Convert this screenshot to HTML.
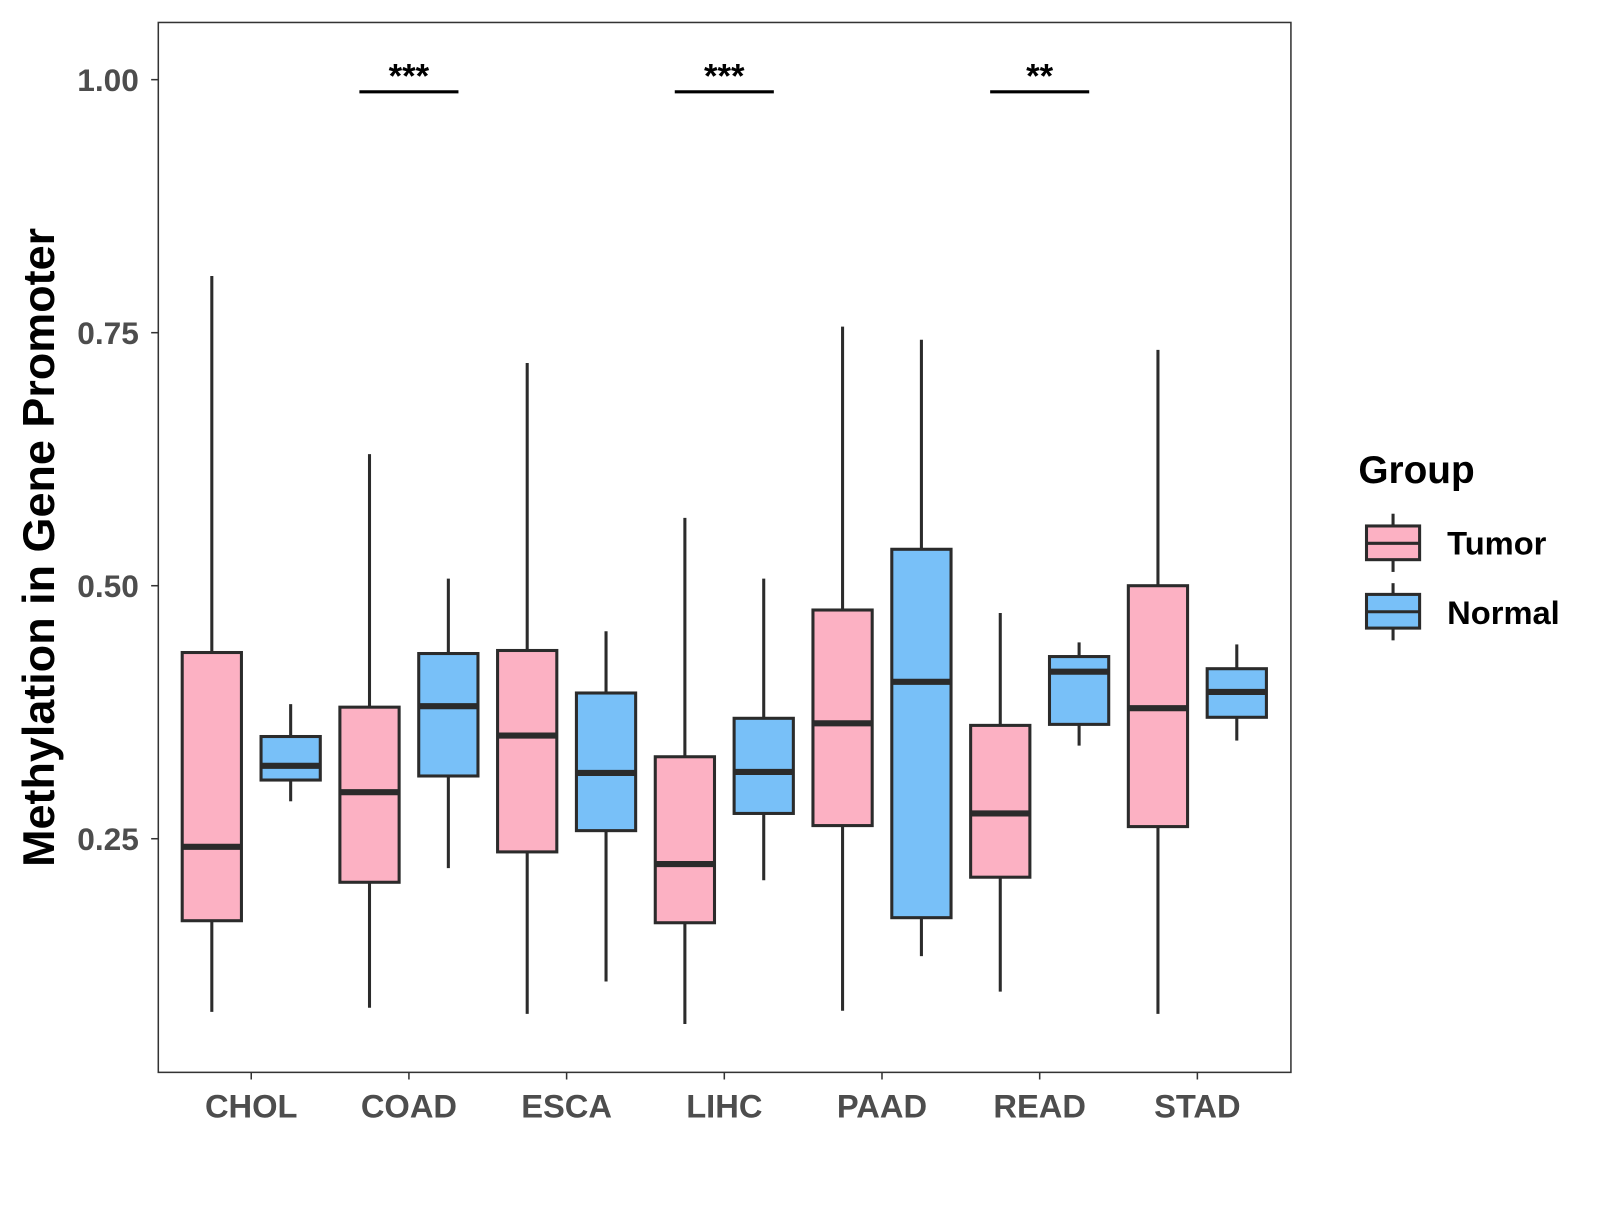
<!DOCTYPE html>
<html><head><meta charset="utf-8"><style>
body{margin:0;background:#fff;}
svg text{font-family:"Liberation Sans",Arial,sans-serif;font-weight:bold;}
</style></head><body>
<svg id="chart" width="1600" height="1200" viewBox="0 0 1600 1200" xmlns="http://www.w3.org/2000/svg">
<g transform="scale(1.0213)">
<rect x="155" y="22" width="1109" height="1028" fill="#fff" stroke="#333" stroke-width="1.5"/>
<g id="yaxis"></g>
<g id="xaxis"></g>
<g id="boxes"></g>
<g id="sig"></g>
<text transform="translate(53,536) rotate(-90)" text-anchor="middle" font-size="44" fill="#000">Methylation in Gene Promoter</text>
<g>
<text x="1330" y="473" font-size="38" fill="#000">Group</text>
<g>
<line x1="1364" y1="503" x2="1364" y2="560" stroke="#2b2b2b" stroke-width="3"/>
<rect x="1338" y="515" width="52" height="33" fill="#FCB1C3" stroke="#2b2b2b" stroke-width="3"/>
<line x1="1338" y1="532" x2="1390" y2="532" stroke="#2b2b2b" stroke-width="3"/>
<text x="1417" y="543" font-size="32" fill="#000">Tumor</text>
</g>
<g>
<line x1="1364" y1="571" x2="1364" y2="627" stroke="#2b2b2b" stroke-width="3"/>
<rect x="1338" y="582" width="52" height="33" fill="#78C0F8" stroke="#2b2b2b" stroke-width="3"/>
<line x1="1338" y1="599" x2="1390" y2="599" stroke="#2b2b2b" stroke-width="3"/>
<text x="1417" y="611" font-size="32" fill="#000">Normal</text>
</g>
</g>
</g>
</svg>
<script>
const categories=["CHOL","COAD","ESCA","LIHC","PAAD","READ","STAD"];
const groups=["Tumor","Normal"];
const tumorLow=[0.079,0.083,0.077,0.067,0.080,0.099,0.077];
const tumorQ1=[0.169,0.207,0.237,0.167,0.263,0.212,0.262];
const tumorMed=[0.242,0.296,0.352,0.225,0.364,0.275,0.379];
const tumorQ3=[0.434,0.380,0.436,0.331,0.476,0.362,0.500];
const tumorHigh=[0.806,0.630,0.720,0.567,0.756,0.473,0.733];
const normalLow=[0.287,0.221,0.109,0.209,0.134,0.342,0.347];
const normalQ1=[0.308,0.312,0.258,0.275,0.172,0.363,0.370];
const normalMed=[0.322,0.381,0.315,0.316,0.405,0.415,0.395];
const normalQ3=[0.351,0.433,0.394,0.369,0.536,0.430,0.418];
const normalHigh=[0.383,0.507,0.455,0.507,0.743,0.444,0.442];
const yTicks=[0.25,0.50,0.75,1.00];
const yTickLabels=["0.25","0.50","0.75","1.00"];
const sigCategories=["COAD","LIHC","READ"];
const sigLabels=["***","***","**"];
const sigLevel=0.988;

const NS="http://www.w3.org/2000/svg";
function y(v){return 78+(1-v)*991;}
function x(i){return 246+i*154.4;}
const dodge=38.6, bw=58;
function mk(tag,attrs,parent){const e=document.createElementNS(NS,tag);for(const k in attrs)e.setAttribute(k,attrs[k]);parent.appendChild(e);return e;}

const ya=document.getElementById('yaxis');
yTicks.forEach((t,i)=>{
  const l=mk('line',{x1:148,x2:155,y1:y(t),y2:y(t),stroke:'#333','stroke-width':1.5},ya);
  
  
  const tx=mk('text',{x:136,y:y(t)+11,'text-anchor':'end','font-size':31,fill:'#4d4d4d'},ya);
  tx.textContent=yTickLabels[i];
  
  
});
const xa=document.getElementById('xaxis');
categories.forEach((c,i)=>{
  const l=mk('line',{x1:x(i),x2:x(i),y1:1050,y2:1057,stroke:'#333','stroke-width':1.5},xa);
  
  
  const tx=mk('text',{x:x(i),y:1094,'text-anchor':'middle','font-size':32,fill:'#4d4d4d'},xa);
  tx.textContent=c;
  
  
});
const bx=document.getElementById('boxes');
function drawBox(cx,lo,q1,md,q3,hi,fill,name){
  const g=mk('g',{},bx);
  
  
  mk('line',{x1:cx,x2:cx,y1:y(hi),y2:y(q3),stroke:'#2b2b2b','stroke-width':3},g);
  mk('line',{x1:cx,x2:cx,y1:y(q1),y2:y(lo),stroke:'#2b2b2b','stroke-width':3},g);
  mk('rect',{x:cx-bw/2,y:y(q3),width:bw,height:y(q1)-y(q3),fill:fill,stroke:'#2b2b2b','stroke-width':3},g);
  mk('line',{x1:cx-bw/2,x2:cx+bw/2,y1:y(md),y2:y(md),stroke:'#2b2b2b','stroke-width':6},g);
}
categories.forEach((c,i)=>{
  drawBox(x(i)-dodge,tumorLow[i],tumorQ1[i],tumorMed[i],tumorQ3[i],tumorHigh[i],'#FCB1C3','box-tumor-'+c.toLowerCase());
  drawBox(x(i)+dodge,normalLow[i],normalQ1[i],normalMed[i],normalQ3[i],normalHigh[i],'#78C0F8','box-normal-'+c.toLowerCase());
});
const sg=document.getElementById('sig');
sigCategories.forEach((c,k)=>{
  const i=categories.indexOf(c);
  const l=mk('line',{x1:x(i)-48.5,x2:x(i)+48.5,y1:y(sigLevel),y2:y(sigLevel),stroke:'#000','stroke-width':3},sg);
  
  
  const t=mk('text',{x:x(i),y:y(sigLevel)-4,'text-anchor':'middle','font-size':34,fill:'#000'},sg);
  t.textContent=sigLabels[k];
  
  
});
</script>
</body></html>
